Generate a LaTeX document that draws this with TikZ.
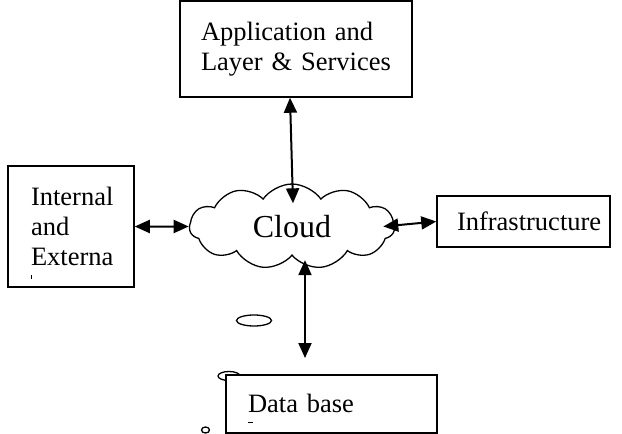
\documentclass[tikz,border=0pt]{standalone}
\usepackage{fontspec}
\setmainfont{Liberation Serif}
\usetikzlibrary{arrows.meta, shapes.symbols, shapes.geometric}

\begin{document}
\begin{tikzpicture}[x=1pt, y=-1pt,
    box/.style={draw, line width=1.5pt, fill=white, rectangle, inner xsep=0pt,
      align=left, font=\fontsize{26.5}{30}\selectfont},
    dbl/.style={{Triangle[length=15pt,width=13pt]}-{Triangle[length=15pt,width=13pt]},
      line width=2pt},
    bubble/.style={ellipse, draw, line width=1.3pt, inner sep=0pt}]
    \useasboundingbox (0,0) rectangle (622,434);

    % thought bubbles under the cloud
    \node[bubble, minimum width=35pt, minimum height=11pt] (b1) at (254,320.5) {};
    \node[bubble, minimum width=22pt, minimum height=9pt] (b2) at (229,376) {};
    \node[bubble, minimum width=8pt, minimum height=6pt] (b3) at (205.5,430) {};

    % the cloud in the middle
    \node[cloud, cloud puffs=11, cloud puff arc=110, cloud ignores aspect, draw, line width=1.3pt,
      minimum width=205pt, minimum height=85pt, inner sep=0pt,
      font=\fontsize{32}{36}\selectfont] (cloud) at (292,226.5) {Cloud};

    % boxes round the cloud
    \node[box, minimum width=232pt, minimum height=96pt, text width=190pt] (app) at (296,49)
      {Application and\\Layer \& Services};
    \node[box, minimum width=126pt, minimum height=121pt, text width=80pt] (internal) at (71,226.5)
      {Internal\\and\\Externa};
    \node[box, minimum width=173pt, minimum height=51pt, text width=133pt] (infra) at (523.5,221.5)
      {\fontsize{26.5}{30}\selectfont Infrastructure};
    \node[box, minimum width=211pt, minimum height=58pt, text width=167pt] (db) at (331.5,404)
      {\raisebox{2pt}{Data base}};

    % clipped text remains
    \draw[line width=0.8pt] (31.5,275) -- (31.5,279);
    \draw[line width=0.8pt] (248,422) -- (253,422);

    % connectors
    \coordinate (dbout) at (305,358);
    \draw[dbl] (internal.east) -- (cloud.west);
    \draw[dbl] ([xshift=-6pt]app.south) -- ([shift={(1pt,-20pt)}]cloud.north);
    \draw[dbl] ([xshift=-12pt]cloud.east) -- (infra.west);
    \draw[dbl] ([yshift=-4pt]dbout |- cloud.south) -- (dbout);
\end{tikzpicture}
\end{document}
